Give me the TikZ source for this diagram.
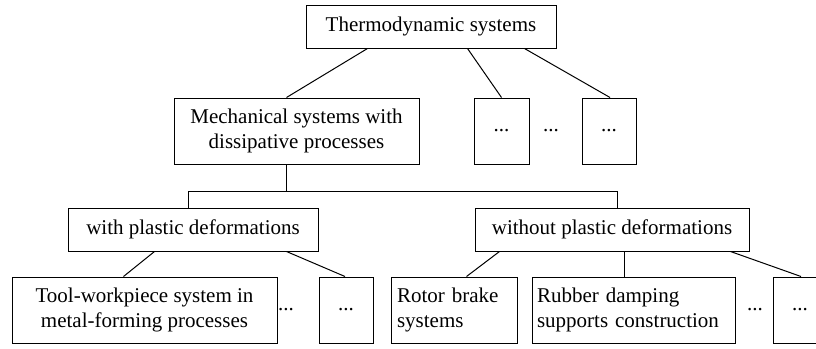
\documentclass[tikz,border=0pt]{standalone}
\usepackage{fontspec}
\setmainfont{Liberation Serif}
\usetikzlibrary{calc}
\begin{document}
\begin{tikzpicture}[x=1pt,y=-1pt,
  box/.style={draw, line width=1pt, inner sep=0pt, align=center, font=\fontsize{21}{25}\selectfont},
  lbox/.style={draw, line width=1pt, inner ysep=0pt, align=left, font=\fontsize{21}{25}\selectfont},
  link/.style={line width=1pt},
  txt/.style={inner sep=0pt, font=\fontsize{21}{25}\selectfont}]
\useasboundingbox (0,0) rectangle (816,348);
\clip (0,0) rectangle (816,348);
% level 0
\node[box, minimum width=250pt, minimum height=43pt] (top) at (431,26.5) {Thermodynamic systems};
% level 1
\node[box, minimum width=245pt, minimum height=66pt] (mech) at (296.5,131) {Mechanical systems with\\dissipative processes};
\node[box, minimum width=55pt, minimum height=66pt] (d1) at (501.5,131) {...};
\node[txt] (dd1) at (551,131) {...};
\node[box, minimum width=54pt, minimum height=66pt] (d2) at (609,131) {...};
% level 2
\node[box, minimum width=250pt, minimum height=43pt] (with) at (193,229.5) {with plastic deformations};
\node[box, minimum width=274pt, minimum height=43pt] (without) at (612,229.5) {without plastic deformations};
% level 3
\node[box, minimum width=265pt, minimum height=66pt] (tool) at (144.5,310) {Tool-workpiece system in\\metal-forming processes};
\node[txt] (dd2) at (286,310) {...};
\node[box, minimum width=54pt, minimum height=66pt] (d3) at (346,310) {...};
\node[lbox, inner xsep=6pt, text width=114pt, minimum height=66pt] (rotor) at (454,310) {Rotor brake\\systems};
\node[lbox, inner xsep=5pt, text width=193pt, minimum height=66pt] (rubber) at (633.5,310) {Rubber damping\\supports construction};
\node[txt] (dd3) at (755,310) {...};
\node[box, minimum width=54pt, minimum height=66pt] (d4) at (800,310) {...};
% connectors
\draw[link] ([xshift=62pt]top.south west) -- ([xshift=113pt]mech.north west);
\draw[link] ([xshift=162pt]top.south west) -- (d1.north);
\draw[link] ([xshift=219pt]top.south west) -- ([xshift=1pt]d2.north);
\coordinate (fork) at ($([xshift=113pt]mech.south west)+(0,27)$);
\draw[link] ([xshift=113pt]mech.south west) -- (fork);
\draw[link] ([xshift=121pt]with.north west) |- (fork) -| ([xshift=143pt]without.north west);
\draw[link] ([xshift=87pt]with.south west) -- ([xshift=112pt]tool.north west);
\draw[link] ([xshift=219pt]with.south west) -- ([xshift=-1pt]d3.north);
\draw[link] ([xshift=25pt]without.south west) -- ([xshift=76pt]rotor.north west);
\draw[link] ([xshift=150pt]without.south west) -- ([xshift=93pt]rubber.north west);
\draw[link] ([xshift=256pt]without.south west) -- ([xshift=1pt]d4.north);
\end{tikzpicture}
\end{document}
